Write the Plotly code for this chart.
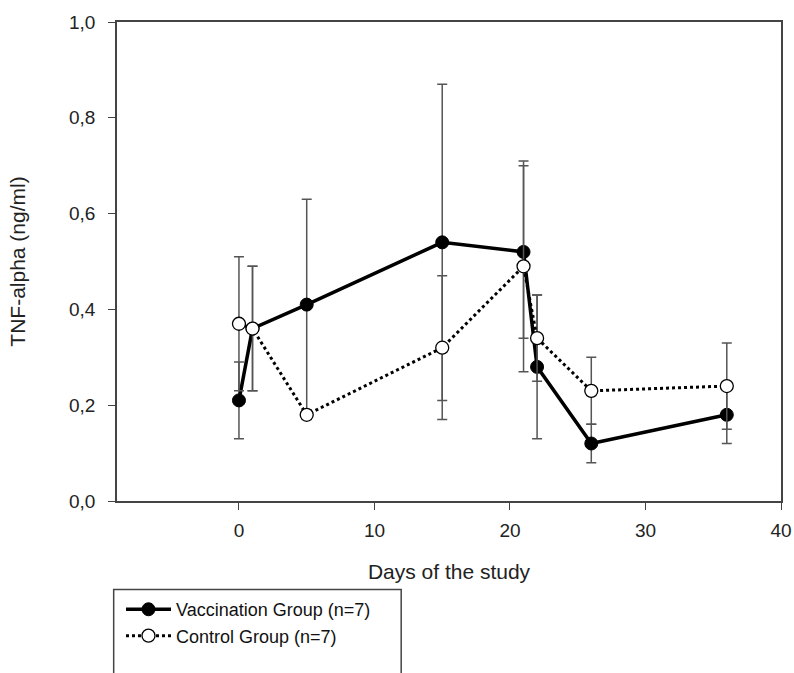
import plotly.graph_objects as go

days = [0, 1, 5, 15, 21, 22, 26, 36]
vacc_mean = [0.21, 0.36, 0.41, 0.54, 0.52, 0.28, 0.12, 0.18]
vacc_err = [0.08, 0.13, 0.22, 0.33, 0.18, 0.15, 0.04, 0.06]
ctrl_mean = [0.37, 0.36, 0.18, 0.32, 0.49, 0.34, 0.23, 0.24]
ctrl_err = [0.14, 0.13, 0.01, 0.15, 0.22, 0.09, 0.07, 0.09]

axis_col = "#444444"
err_col = "#555555"

fig = go.Figure()
fig.add_trace(go.Scatter(
    x=days, y=vacc_mean, mode="lines+markers", name="Vaccination Group (n=7)",
    line=dict(color="black", width=3.5),
    marker=dict(symbol="circle", size=13, color="black", line=dict(color="black", width=1)),
    error_y=dict(type="data", array=vacc_err, visible=True, color=err_col, thickness=1.5, width=5),
))
fig.add_trace(go.Scatter(
    x=days, y=ctrl_mean, mode="lines+markers", name="Control Group (n=7)",
    line=dict(color="black", width=3, dash="dot"),
    marker=dict(symbol="circle", size=13, color="white", line=dict(color="black", width=1.3)),
    error_y=dict(type="data", array=ctrl_err, visible=True, color=err_col, thickness=1.5, width=5),
))

fig.update_layout(
    width=794, height=673,
    margin=dict(l=117, r=13, t=22, b=172),
    paper_bgcolor="white", plot_bgcolor="white",
    separators=",.",
    font=dict(family="Liberation Sans, Arial, sans-serif", size=18, color="#222222"),
    showlegend=True,
    legend=dict(x=0.006, y=-0.188, xanchor="left", yanchor="top",
                font=dict(size=18, color="#111111"), bgcolor="rgba(0,0,0,0)",
                tracegroupgap=0, itemwidth=45),
    shapes=[dict(type="rect", xref="paper", yref="paper", x0=-0.005, x1=0.428,
                 y0=-0.185, y1=-0.6, line=dict(color=axis_col, width=1.5))],
)
fig.update_xaxes(
    range=[-9, 40], tickvals=[0, 10, 20, 30, 40], ticks="outside", ticklen=7,
    tickcolor=axis_col, showline=True, linecolor=axis_col, linewidth=1.5,
    mirror=True, showgrid=False, zeroline=False, automargin=False,
    tickfont=dict(size=19, color="#222222"), ticklabelstandoff=4,
    title=dict(text="Days of the study", font=dict(size=21), standoff=25),
)
fig.update_yaxes(
    range=[0, 1.0], tickvals=[0, 0.2, 0.4, 0.6, 0.8, 1.0], tickformat=".1f",
    ticks="outside", ticklen=7, tickcolor=axis_col, showline=True,
    linecolor=axis_col, linewidth=1.5, mirror=True, showgrid=False, zeroline=False,
    automargin=False, tickfont=dict(size=19, color="#222222"), ticklabelstandoff=9,
    title=dict(text="TNF-alpha (ng/ml)", font=dict(size=21), standoff=38),
)

fig.write_html(
    "out.html",
    config={"displayModeBar": False},
    post_script="document.body.style.margin='0';document.body.style.overflow='hidden';",
)
